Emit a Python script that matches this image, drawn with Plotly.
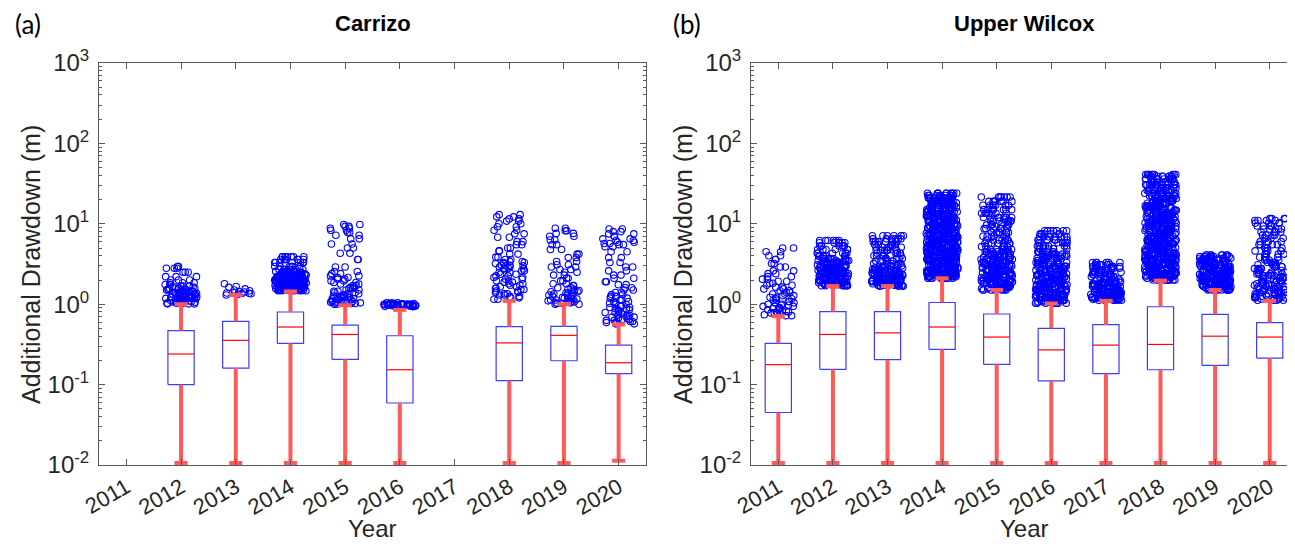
import math
import plotly.graph_objects as go

years = ["2011", "2012", "2013", "2014", "2015", "2016", "2017", "2018", "2019", "2020"]

# ---------------- Carrizo (panel a) box statistics (None = no data) ----------------
c_q1 = [None, 0.10, 0.16, 0.325, 0.206, 0.059, None, 0.112, 0.198, 0.137]
c_med = [None, 0.24, 0.355, 0.52, 0.42, 0.153, None, 0.33, 0.41, 0.187]
c_q3 = [None, 0.47, 0.61, 0.80, 0.55, 0.405, None, 0.525, 0.53, 0.31]
c_lo = [None, 0.0106, 0.0106, 0.0106, 0.0106, 0.0106, None, 0.0106, 0.0106, 0.0113]
c_hi = [None, 1.0, 1.3, 1.44, 0.97, 0.85, None, 1.1, 1.0, 0.56]

# ---------------- Upper Wilcox (panel b) box statistics ----------------
u_q1 = [0.045, 0.155, 0.204, 0.274, 0.178, 0.111, 0.137, 0.153, 0.173, 0.214]
u_med = [0.177, 0.42, 0.44, 0.52, 0.39, 0.27, 0.31, 0.316, 0.40, 0.39]
u_q3 = [0.326, 0.81, 0.81, 1.05, 0.755, 0.50, 0.556, 0.93, 0.746, 0.59]
u_lo = [0.0106] * 10
u_hi = [0.71, 1.68, 1.68, 2.1, 1.5, 1.02, 1.1, 1.96, 1.5, 1.1]

# ---------------- Outliers ----------------
c2011_out = []
c2012_out = [1.01, 1.03, 1.05, 1.06, 1.08, 1.1, 1.12, 1.13, 1.15, 1.18, 1.19, 1.21, 1.24, 1.26, 1.29,
             1.31, 1.34, 1.37, 1.41, 1.43, 1.47, 1.5, 1.54, 1.58, 1.63, 1.68, 1.76, 1.85, 2.0, 2.2,
             2.5, 2.8, 2.95]
c2013_out = [1.3, 1.33, 1.35, 1.37, 1.4, 1.42, 1.44, 1.47, 1.5, 1.38, 1.36, 1.55, 1.62, 1.66, 1.8]
c2014_out = [1.47, 1.5, 1.53, 1.56, 1.6, 1.63, 1.67, 1.71, 1.75, 1.79, 1.83, 1.88, 1.93, 1.98, 2.03,
             2.09, 2.15, 2.22, 2.3, 2.38, 2.47, 2.56, 2.7, 2.95, 3.3, 3.6, 3.9]
c2015_out = [1.0, 1.02, 1.04, 1.06, 1.08, 1.1, 1.12, 1.14, 1.17, 1.2, 1.23, 1.26, 1.3, 1.35, 1.4,
             1.45, 1.5, 1.56, 1.62, 1.7, 1.78, 1.86, 1.95, 2.05, 2.15, 2.25, 2.4, 2.55, 2.9, 3.6,
             4.3, 5.0, 5.6, 6.5, 7.2, 7.8, 8.3, 8.8, 9.3, 9.8]
c2016_out = [0.93, 0.94, 0.95, 0.95, 0.96, 0.97, 0.97, 0.98, 0.99, 1.0, 1.0, 1.01, 1.02, 1.03, 1.04,
             0.96, 0.98, 0.99, 1.01, 1.0]
c2017_out = []
c2018_out = [1.15, 1.2, 1.25, 1.3, 1.35, 1.4, 1.46, 1.52, 1.58, 1.65, 1.72, 1.8, 1.88, 1.96, 2.05,
             2.15, 2.25, 2.36, 2.48, 2.6, 2.75, 2.9, 3.05, 3.2, 3.4, 3.6, 3.85, 4.2, 4.6, 5.0,
             5.5, 6.0, 6.8, 7.5, 8.3, 9.2, 10.0, 10.8, 11.5, 12.2, 13.0, 3.0, 3.3, 2.8]
c2019_out = [1.0, 1.02, 1.04, 1.07, 1.1, 1.13, 1.16, 1.19, 1.22, 1.26, 1.3, 1.34, 1.38, 1.43, 1.48,
             1.54, 1.6, 1.7, 1.8, 1.95, 2.1, 2.3, 2.5, 2.7, 2.9, 3.1, 3.4, 3.8, 4.2, 4.8, 5.5, 6.3,
             7.0, 7.6, 8.2, 8.8]
c2020_out = [0.57, 0.59, 0.61, 0.63, 0.65, 0.67, 0.69, 0.71, 0.73, 0.76, 0.79, 0.82, 0.85, 0.88,
             0.91, 0.95, 0.99, 1.03, 1.08, 1.13, 1.19, 1.25, 1.32, 1.4, 1.5, 1.6, 1.75, 1.9, 2.1,
             2.3, 2.6, 2.9, 3.3, 3.8, 4.5, 5.2, 5.5, 5.7, 5.9, 6.2, 6.5, 7.0, 7.5, 8.0, 8.6]

u2011_out = [0.72, 0.74, 0.76, 0.78, 0.8, 0.82, 0.85, 0.88, 0.91, 0.94, 0.97, 1.0, 1.04, 1.08, 1.12,
             1.17, 1.22, 1.28, 1.34, 1.4, 1.47, 1.55, 1.63, 1.72, 1.82, 1.93, 2.05, 2.2, 2.4, 2.6,
             2.9, 3.2, 3.6, 4.0, 4.5, 5.0]
u2012_out = [1.7, 1.75, 1.8, 1.85, 1.9, 1.95, 2.0, 2.06, 2.12, 2.18, 2.25, 2.32, 2.4, 2.48, 2.56,
             2.65, 2.75, 2.85, 2.96, 3.08, 3.2, 3.35, 3.5, 3.7, 3.95, 4.3, 4.8, 5.3, 5.8, 6.2]
u2013_out = [1.68, 1.72, 1.76, 1.8, 1.85, 1.9, 1.95, 2.0, 2.06, 2.12, 2.19, 2.26, 2.34, 2.42, 2.5,
             2.6, 2.7, 2.82, 3.0, 3.2, 3.45, 3.7, 4.0, 4.3, 4.7, 5.1, 5.5, 6.0, 6.5, 7.1]
u2014_out = [2.1, 2.2, 2.3, 2.4, 2.5, 2.62, 2.75, 2.88, 3.0, 3.15, 3.3, 3.46, 3.62, 3.8, 4.0, 4.2,
             4.4, 4.6, 4.85, 5.1, 5.35, 5.6, 5.9, 6.2, 6.5, 6.85, 7.2, 7.6, 8.0, 8.4, 8.9, 9.4,
             9.9, 10.5, 11.1, 11.8, 12.5, 13.3, 14.1, 15.0, 16.0, 17.0, 18.2, 19.5, 21.0, 22.5, 24.0]
u2015_out = [1.5, 1.56, 1.62, 1.68, 1.75, 1.82, 1.9, 1.98, 2.06, 2.15, 2.25, 2.35, 2.46, 2.58, 2.7,
             2.83, 2.97, 3.12, 3.28, 3.45, 3.63, 3.82, 4.03, 4.25, 4.5, 4.8, 5.2, 5.7, 6.3, 7.0,
             7.8, 8.7, 9.7, 10.8, 12.0, 13.5, 15.0, 17.0, 19.0, 21.5]
u2016_out = [1.03, 1.07, 1.11, 1.15, 1.19, 1.24, 1.29, 1.34, 1.4, 1.46, 1.52, 1.59, 1.66, 1.74, 1.82,
             1.9, 1.99, 2.08, 2.18, 2.29, 2.4, 2.52, 2.65, 2.8, 2.96, 3.13, 3.3, 3.5, 3.72, 3.95,
             4.2, 4.5, 4.9, 5.3, 5.8, 6.3, 6.9, 7.5, 8.2]
u2017_out = [1.12, 1.15, 1.18, 1.21, 1.24, 1.28, 1.32, 1.36, 1.4, 1.45, 1.5, 1.55, 1.6, 1.66, 1.72,
             1.79, 1.86, 1.94, 2.05, 2.2, 2.35, 2.5, 2.65, 2.8, 2.95, 3.1, 3.3]
u2018_out = [2.0, 2.1, 2.2, 2.3, 2.42, 2.55, 2.68, 2.82, 2.97, 3.13, 3.3, 3.48, 3.67, 3.87, 4.08,
             4.3, 4.55, 4.8, 5.07, 5.35, 5.65, 5.97, 6.3, 6.65, 7.0, 7.4, 7.8, 8.25, 8.7, 9.2,
             9.7, 10.3, 10.9, 11.5, 12.2, 13.0, 13.8, 14.7, 15.7, 16.8, 18.0, 19.3, 20.7, 22.2,
             24.0, 26.0, 28.0, 30.5, 33.0, 36.0, 39.0, 41.0]
u2019_out = [1.5, 1.55, 1.6, 1.66, 1.72, 1.78, 1.85, 1.92, 2.0, 2.08, 2.16, 2.25, 2.35, 2.45, 2.56,
             2.68, 2.8, 2.93, 3.07, 3.22, 3.38, 3.55, 3.73, 3.92, 4.1]
u2020_out = [1.12, 1.16, 1.2, 1.25, 1.3, 1.35, 1.4, 1.46, 1.52, 1.58, 1.65, 1.72, 1.8, 1.88, 1.97,
             2.06, 2.16, 2.27, 2.38, 2.5, 2.63, 2.77, 2.92, 3.1, 3.3, 3.55, 3.85, 4.2, 4.6, 5.0,
             5.5, 6.0, 6.6, 7.2, 7.9, 8.6, 9.4, 10.2, 11.0, 11.6]

c_outliers = [c2011_out, c2012_out, c2013_out, c2014_out, c2015_out, c2016_out, c2017_out,
              c2018_out, c2019_out, c2020_out]
u_outliers = [u2011_out, u2012_out, u2013_out, u2014_out, u2015_out, u2016_out, u2017_out,
              u2018_out, u2019_out, u2020_out]

# display density (number of jittered copies drawn per listed value) - styling only
c_density = [1, 3, 1, 7, 2, 2, 1, 2, 2, 2]
u_density = [2, 6, 6, 10, 7, 7, 6, 10, 8, 4]

y_ticks = [0.01, 0.1, 1, 10, 100, 1000]
y_ticktext = ["10<sup>-2</sup>", "10<sup>-1</sup>", "10<sup>0</sup>", "10<sup>1</sup>",
              "10<sup>2</sup>", "10<sup>3</sup>"]

# ---------------- styles ----------------
BOX_W = 0.48
CAP_W = 0.12
JIT_W = 0.58
WHISK = "#FF5A5A"
BOXC = "rgb(60,60,255)"
MARK = "rgb(0,0,255)"
AXC = "#5a5a5a"
FONT = "Liberation Sans, Arial, sans-serif"

fig = go.Figure()


def jitter(k, c):
    s = math.sin(k * 12.9898 + c * 78.233) * 43758.5453
    return s - math.floor(s)


def add_panel(q1, med, q3, lo, hi, outliers, density, xa, ya):
    pos = [i + 1 for i in range(len(years))]
    idx = [i for i in range(len(years)) if q1[i] is not None]
    ox, oy = [], []
    k = 0
    for i in range(len(years)):
        for v in outliers[i]:
            k += 1
            for c in range(density[i]):
                ox.append(pos[i] + (jitter(k, c) - 0.5) * JIT_W)
                oy.append(v)
    fig.add_trace(go.Scatter(x=ox, y=oy, mode="markers", xaxis=xa, yaxis=ya,
                             marker=dict(symbol="circle-open", size=6.5, color=MARK,
                                         line=dict(width=1.1, color=MARK)),
                             hoverinfo="skip", showlegend=False))
    bx, by, wx, wy, cx, cy, mx, my = [], [], [], [], [], [], [], []
    for i in idx:
        p = pos[i]
        h = BOX_W / 2
        bx += [p - h, p + h, p + h, p - h, p - h, None]
        by += [q1[i], q1[i], q3[i], q3[i], q1[i], None]
        wx += [p, p, None, p, p, None]
        wy += [lo[i], q1[i], None, q3[i], hi[i], None]
        cx += [p - CAP_W, p + CAP_W, None, p - CAP_W, p + CAP_W, None]
        cy += [lo[i], lo[i], None, hi[i], hi[i], None]
        mx += [p - h, p + h, None]
        my += [med[i], med[i], None]
    fig.add_trace(go.Scatter(x=bx, y=by, mode="lines", fill="toself", fillcolor="white",
                             xaxis=xa, yaxis=ya, line=dict(color=BOXC, width=1.2),
                             hoverinfo="skip", showlegend=False))
    fig.add_trace(go.Scatter(x=wx, y=wy, mode="lines", xaxis=xa, yaxis=ya,
                             line=dict(color=WHISK, width=4), hoverinfo="skip", showlegend=False))
    fig.add_trace(go.Scatter(x=cx, y=cy, mode="lines", xaxis=xa, yaxis=ya,
                             line=dict(color=WHISK, width=4), hoverinfo="skip", showlegend=False))
    fig.add_trace(go.Scatter(x=mx, y=my, mode="lines", xaxis=xa, yaxis=ya,
                             line=dict(color="red", width=1.2), hoverinfo="skip", showlegend=False))


add_panel(c_q1, c_med, c_q3, c_lo, c_hi, c_outliers, c_density, "x", "y")
add_panel(u_q1, u_med, u_q3, u_lo, u_hi, u_outliers, u_density, "x2", "y2")

minor_vals = [m * 10 ** e for e in range(-2, 3) for m in range(2, 10)]

xcommon = dict(range=[0.5, 10.5], tickmode="array", tickvals=list(range(1, 11)), ticktext=years,
               tickangle=-30, ticks="inside", ticklen=6, tickcolor=AXC, showline=True,
               linecolor=AXC, linewidth=1, mirror="ticks", showgrid=False, zeroline=False,
               automargin=False,
               tickfont=dict(size=22, color="#262626", family=FONT))
ycommon = dict(type="log", range=[-2, 3], tickmode="array", tickvals=y_ticks, ticktext=y_ticktext,
               ticks="inside", ticklen=6, tickcolor=AXC, showline=True, linecolor=AXC,
               linewidth=1, mirror="ticks", showgrid=False, zeroline=False,
               ticklabelstandoff=4, automargin=False,
               tickfont=dict(size=24, color="#262626", family=FONT),
               minor=dict(tickmode="array", tickvals=minor_vals, ticks="inside", ticklen=3,
                          tickcolor=AXC, showgrid=False))

y_dom = [1 - 457 / 546, 1 - 55 / 546]
fig.update_layout(
    width=1295, height=546, margin=dict(l=0, r=0, t=0, b=0, pad=0, autoexpand=False),
    paper_bgcolor="white", plot_bgcolor="white",
    font=dict(family=FONT, color="#262626"),
    xaxis=dict(domain=[91 / 1295, 638 / 1295], anchor="y", **xcommon),
    yaxis=dict(domain=y_dom, anchor="x", **ycommon),
    xaxis2=dict(domain=[743 / 1295, 1289 / 1295], anchor="y2", **xcommon),
    yaxis2=dict(domain=y_dom, anchor="x2", **ycommon),
    showlegend=False,
)

ann = []
for cx_px, title, lab, lab_x in [(364.5, "Carrizo", "(a)", 5), (1016, "Upper Wilcox", "(b)", 663)]:
    ann.append(dict(x=cx_px / 1295, y=1 - 15 / 546, xref="paper", yref="paper", text="<b>" + title + "</b>",
                    showarrow=False, font=dict(size=22, color="black", family=FONT),
                    xanchor="center", yanchor="middle"))
    ann.append(dict(x=lab_x / 1295, y=1 - 16 / 546, xref="paper", yref="paper", text=lab,
                    showarrow=False, font=dict(size=26, color="black", family="Lato, Open Sans, sans-serif"),
                    xanchor="left", yanchor="middle"))
    ann.append(dict(x=cx_px / 1295, y=1 - 520 / 546, xref="paper", yref="paper", text="Year",
                    showarrow=False, font=dict(size=24, color="#262626", family=FONT),
                    xanchor="center", yanchor="middle"))
for yx in [23, 675]:
    ann.append(dict(x=yx / 1295, y=1 - 257 / 546, xref="paper", yref="paper",
                    text="Additional Drawdown (m)", textangle=-90, showarrow=False,
                    font=dict(size=25, color="#262626", family=FONT),
                    xanchor="center", yanchor="middle"))
fig.update_layout(annotations=ann)

fig.write_html("out.html")
